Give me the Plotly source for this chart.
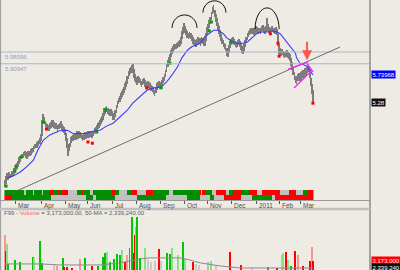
import plotly.graph_objects as go
import pandas as pd

# ---------------- data ----------------
start_date = "2010-02-15"

close = [
    3.89, 3.95, 4.02, 4.00, 4.04,
    4.02, 4.06, 4.07, 4.11, 4.12,
    4.18, 4.19, 4.23, 4.28, 4.31,
    4.35, 4.36, 4.38, 4.40, 4.38,
    4.36, 4.40, 4.41, 4.40, 4.43,
    4.46, 4.48, 4.52, 4.53, 4.55,
    4.58, 4.60, 4.62, 4.67, 4.84,
    4.99, 4.96, 4.91, 4.87, 4.86,
    4.84, 4.87, 4.89, 4.92, 4.91,
    4.89, 4.86, 4.87, 4.84, 4.86,
    4.87, 4.89, 4.86, 4.82, 4.80,
    4.77, 4.69, 4.58, 4.46, 4.52,
    4.60, 4.65, 4.67, 4.69, 4.70,
    4.69, 4.72, 4.70, 4.74, 4.72,
    4.70, 4.67, 4.69, 4.72, 4.70,
    4.72, 4.74, 4.72, 4.75, 4.74,
    4.72, 4.75, 4.79, 4.80, 4.84,
    4.87, 4.89, 4.92, 4.96, 4.99,
    5.04, 5.11, 5.14, 5.16, 5.13,
    5.11, 5.09, 5.11, 5.08, 5.04,
    5.02, 5.08, 5.16, 5.23, 5.30,
    5.33, 5.38, 5.42, 5.45, 5.48,
    5.54, 5.59, 5.65, 5.74, 5.79,
    5.82, 5.84, 5.86, 5.76, 5.69,
    5.65, 5.62, 5.67, 5.65, 5.62,
    5.59, 5.62, 5.64, 5.59, 5.55,
    5.57, 5.59, 5.57, 5.55, 5.52,
    5.50, 5.47, 5.43, 5.48, 5.54,
    5.57, 5.59, 5.55, 5.57, 5.60,
    5.65, 5.70, 5.77, 5.86, 5.93,
    5.99, 6.04, 6.10, 6.15, 6.18,
    6.22, 6.22, 6.23, 6.25, 6.27,
    6.28, 6.33, 6.42, 6.50, 6.55,
    6.52, 6.47, 6.42, 6.40, 6.42,
    6.40, 6.37, 6.33, 6.30, 6.28,
    6.27, 6.30, 6.33, 6.32, 6.30,
    6.33, 6.32, 6.28, 6.30, 6.39,
    6.49, 6.54, 6.61, 6.67, 6.74,
    6.84, 6.86, 6.78, 6.71, 6.64,
    6.57, 6.50, 6.44, 6.37, 6.32,
    6.27, 6.23, 6.20, 6.13, 6.10,
    6.18, 6.25, 6.30, 6.32, 6.33,
    6.30, 6.27, 6.25, 6.28, 6.30,
    6.27, 6.23, 6.18, 6.15, 6.20,
    6.27, 6.33, 6.39, 6.44, 6.47,
    6.49, 6.50, 6.49, 6.47, 6.49,
    6.52, 6.50, 6.49, 6.50, 6.49,
    6.52, 6.54, 6.50, 6.49, 6.52,
    6.61, 6.54, 6.50, 6.49, 6.52,
    6.52, 6.50, 6.49, 6.50, 6.47,
    6.33, 6.18, 6.13, 6.11, 6.13,
    6.10, 6.08, 6.10, 6.11, 6.08,
    6.06, 6.03, 5.96, 5.89, 5.81,
    5.72, 5.67, 5.65, 5.69, 5.70,
    5.69, 5.72, 5.74, 5.76, 5.77,
    5.79, 5.81, 5.84, 5.86, 5.77,
    5.62, 5.50, 5.38,
]

spread = [
    0.12, 0.14, 0.10, 0.10, 0.09,
    0.08, 0.10, 0.09, 0.10, 0.08,
    0.10, 0.09, 0.10, 0.12, 0.10,
    0.09, 0.08, 0.10, 0.09, 0.10,
    0.09, 0.10, 0.08, 0.09, 0.10,
    0.09, 0.10, 0.09, 0.08, 0.10,
    0.09, 0.08, 0.10, 0.12, 0.26,
    0.16, 0.12, 0.10, 0.09, 0.10,
    0.10, 0.11, 0.09, 0.10, 0.12,
    0.10, 0.09, 0.11, 0.10, 0.09,
    0.10, 0.12, 0.10, 0.09, 0.10,
    0.10, 0.14, 0.16, 0.20, 0.14,
    0.16, 0.12, 0.10, 0.11, 0.10,
    0.10, 0.12, 0.10, 0.11, 0.10,
    0.11, 0.10, 0.12, 0.10, 0.09,
    0.10, 0.11, 0.10, 0.09, 0.10,
    0.10, 0.09, 0.11, 0.10, 0.10,
    0.10, 0.09, 0.10, 0.11, 0.10,
    0.12, 0.14, 0.12, 0.10, 0.11,
    0.10, 0.11, 0.10, 0.09, 0.12,
    0.10, 0.12, 0.14, 0.12, 0.11,
    0.10, 0.11, 0.10, 0.09, 0.10,
    0.12, 0.11, 0.13, 0.14, 0.12,
    0.12, 0.14, 0.12, 0.16, 0.12,
    0.11, 0.10, 0.12, 0.10, 0.11,
    0.10, 0.11, 0.10, 0.12, 0.10,
    0.10, 0.09, 0.11, 0.10, 0.10,
    0.10, 0.12, 0.11, 0.10, 0.11,
    0.10, 0.09, 0.10, 0.11, 0.10,
    0.10, 0.12, 0.12, 0.13, 0.12,
    0.12, 0.11, 0.12, 0.10, 0.11,
    0.10, 0.09, 0.10, 0.11, 0.10,
    0.10, 0.12, 0.14, 0.12, 0.14,
    0.12, 0.11, 0.12, 0.10, 0.11,
    0.10, 0.11, 0.12, 0.10, 0.11,
    0.12, 0.10, 0.11, 0.10, 0.12,
    0.10, 0.11, 0.10, 0.12, 0.14,
    0.12, 0.12, 0.13, 0.12, 0.14,
    0.12, 0.14, 0.12, 0.13, 0.12,
    0.12, 0.13, 0.12, 0.12, 0.11,
    0.12, 0.11, 0.12, 0.14, 0.12,
    0.14, 0.12, 0.11, 0.10, 0.11,
    0.10, 0.11, 0.10, 0.12, 0.10,
    0.11, 0.12, 0.12, 0.10, 0.12,
    0.12, 0.11, 0.12, 0.10, 0.11,
    0.10, 0.09, 0.10, 0.11, 0.10,
    0.10, 0.11, 0.10, 0.09, 0.10,
    0.10, 0.11, 0.10, 0.11, 0.10,
    0.18, 0.12, 0.10, 0.11, 0.10,
    0.10, 0.09, 0.10, 0.11, 0.10,
    0.20, 0.16, 0.12, 0.10, 0.11,
    0.10, 0.11, 0.10, 0.11, 0.10,
    0.10, 0.12, 0.12, 0.14, 0.14,
    0.14, 0.12, 0.14, 0.12, 0.14,
    0.12, 0.14, 0.12, 0.13, 0.12,
    0.12, 0.13, 0.12, 0.14, 0.16,
    0.14, 0.16, 0.22,
]

# moving average (read at sample days)
ma_days = [2, 7, 14, 20, 26, 30, 35, 41, 50, 57, 62, 69, 75, 82, 87, 93, 99, 105, 112, 117,
           124, 130, 136, 139, 144, 148, 153, 158, 162, 167, 171, 176, 179, 183, 188, 191, 195, 200, 203, 209,
           213, 218, 222, 224, 228, 231, 235, 240, 245, 249, 252, 255, 259, 263, 266, 267, 270, 274, 277, 279, 282]
ma_values = [3.99, 4.02, 4.09, 4.18, 4.29, 4.46, 4.63, 4.72, 4.79, 4.80, 4.75, 4.74, 4.75, 4.79, 4.80, 4.87, 4.92, 5.02, 5.14, 5.26,
             5.38, 5.48, 5.52, 5.52, 5.55, 5.62, 5.74, 5.88, 6.03, 6.16, 6.22, 6.25, 6.28, 6.39, 6.45, 6.50, 6.50, 6.44, 6.37, 6.30,
             6.28, 6.28, 6.30, 6.33, 6.40, 6.45, 6.47, 6.47, 6.49, 6.47, 6.44, 6.37, 6.28, 6.20, 6.11, 6.03, 5.94, 5.91, 5.88, 5.82, 5.74]

# signal markers
up_days = [1, 9, 10, 15, 35, 84, 92, 143, 151, 187, 189, 207]
up_prices = [3.85, 4.11, 4.18, 4.35, 4.94, 4.77, 5.14, 5.52, 5.94, 6.49, 6.64, 6.30]
down_days = [38, 76, 80, 130, 243, 250, 251, 282]
down_prices = [4.82, 4.60, 4.58, 5.52, 6.44, 6.28, 6.06, 5.26]

# indicator colour band (s = grey, g = green, r = red), run lengths in days
band_top_runs = [("g", 18), ("s", 2), ("g", 6), ("s", 1), ("g", 7), ("s", 1), ("g", 6), ("r", 3), ("g", 5), ("r", 1),
                 ("g", 3), ("r", 5), ("s", 8), ("g", 5), ("r", 1), ("g", 6), ("s", 3), ("g", 17), ("r", 3), ("g", 4),
                 ("s", 7), ("g", 5), ("r", 4), ("s", 9), ("r", 6), ("g", 15), ("s", 3), ("g", 17), ("r", 1), ("g", 7),
                 ("r", 1), ("s", 1), ("r", 4), ("g", 5), ("s", 4), ("r", 9), ("s", 3), ("g", 3), ("r", 9), ("g", 6),
                 ("r", 7), ("s", 5), ("r", 16), ("s", 9), ("r", 6), ("s", 6), ("g", 4), ("r", 6)]
band_bottom_runs = [("r", 7), ("g", 36), ("s", 32), ("g", 6), ("s", 3), ("g", 17), ("s", 20), ("g", 27), ("s", 19),
                    ("g", 12), ("s", 9), ("g", 4), ("s", 9), ("r", 16), ("s", 10), ("g", 18), ("s", 3), ("r", 35)]

# volume (millions) - bars that rise into the visible part of the panel
vol_days = [0, 1, 2, 3, 9, 14, 26, 27, 32, 34, 45, 48, 53, 54, 57, 61, 69, 73, 80, 85,
            90, 92, 93, 96, 100, 103, 105, 107, 110, 112, 114, 116, 118, 119, 120, 121, 124, 128, 131, 134,
            137, 141, 143, 148, 151, 153, 158, 163, 165, 172, 175, 178, 186, 189, 193, 206, 216, 226, 241, 249,
            254, 255, 257, 259, 262, 266, 268, 273, 279, 280, 281, 282]
vol_values = [3.65, 3.00, 3.30, 2.50, 2.66, 2.58, 2.78, 2.74, 3.41, 2.54, 2.46, 2.42, 2.74, 2.38, 2.38, 2.32, 2.70, 2.74, 2.42, 2.42,
              2.78, 2.93, 2.97, 2.58, 2.70, 2.89, 2.85, 3.05, 2.58, 2.85, 3.13, 4.36, 2.93, 3.65, 3.97, 4.36, 2.74, 3.13, 2.66, 2.58,
              2.62, 3.09, 2.62, 2.93, 2.89, 3.13, 2.85, 3.37, 2.70, 2.58, 2.50, 2.46, 2.58, 2.62, 2.42, 2.97, 2.46, 2.34, 2.38, 2.34,
              2.85, 2.93, 2.97, 2.66, 2.40, 3.01, 2.85, 2.42, 2.62, 2.50, 3.173, 2.60]
vol_kinds = list("rRgGGGGgGGsrGRRRrGRGGGgGGGGgRrGGRRrGGgsssRsGGggGgRssggsRRsGRggRgGRrRRRrR")
vol_ma_days = [0, 33, 50, 87, 105, 114, 124, 133, 160, 169, 179, 197, 215, 243, 282]
vol_ma_values = [2.50, 2.50, 2.46, 2.46, 2.54, 2.62, 2.70, 2.74, 2.74, 2.66, 2.54, 2.42, 2.34, 2.34, 2.339]

# drawn studies
level_values = [6.13, 5.93]
level_labels = ["5.98596", "5.90947"]
trend_days = [0, 306.8]
trend_prices = [3.68, 6.215]
arc_days = [164.4, 191.8, 240.0]
arc_base = [6.54, 6.80, 6.52]
arc_halfwidth = [11.4, 10.5, 11.0]
arc_height = [0.22, 0.20, 0.36]
wedge_segments = [(259.2, 5.84, 277.5, 5.96), (264.7, 5.52, 281.1, 5.82), (276.6, 5.93, 282.1, 5.79)]
arrow_day, arrow_price = 276.6, 5.99

month_labels = ["Mar", "Apr", "May", "Jun", "Jul", "Aug", "Sep", "Oct", "Nov", "Dec", "2011", "Feb", "Mar"]
ma_label = "5.73968"
last_price = 5.28
last_price_label = "5.28"
vol_label = "3,173,000"
vol_ma_label = "2,339,240"
title_text = ("F99 - <span style='color:#ff5a5a'>Volume</span>"
              " = 3,173,000.00, 50-MA = 2,339,240.00")

# ---------------- build ----------------
W, H = 400, 270
BG = "#EEEBE5"
FONT = "Liberation Sans, Arial, sans-serif"


def py(p):
    return 1 - p / H


days = list(range(len(close)))
dates = pd.bdate_range(start_date, periods=len(close))
first_idx, prev = [], None
for i, dt in enumerate(dates):
    key = (dt.year, dt.month)
    if key != prev:
        first_idx.append(i)
        prev = key
month_pos = first_idx[1:1 + len(month_labels)]

code = {"s": 0, "g": 1, "r": 2}
top_codes = [code[c] for c, n in band_top_runs for _ in range(n)]
bot_codes = [code[c] for c, n in band_bottom_runs for _ in range(n)]
vol_color_map = {"G": "#00c800", "g": "#8edc8e", "R": "#ff0000", "r": "#ff9494", "s": "#c9c9c9"}

fig = go.Figure()

# price bars (high-low range)
fig.add_trace(go.Bar(x=days, y=spread, base=[c - s / 2 for c, s in zip(close, spread)],
                     width=0.7, marker=dict(color="#7c7c7c", line=dict(width=0)),
                     xaxis="x", yaxis="y", showlegend=False))
fig.add_trace(go.Scatter(x=ma_days, y=ma_values, mode="lines",
                         line=dict(color="#3b3bf5", width=1.1), xaxis="x", yaxis="y", showlegend=False))
fig.add_trace(go.Scatter(x=up_days, y=up_prices, mode="markers",
                         marker=dict(symbol="square", size=3, color="#00a000"), xaxis="x", yaxis="y", showlegend=False))
fig.add_trace(go.Scatter(x=down_days, y=down_prices, mode="markers",
                         marker=dict(symbol="square", size=3, color="#ff0000"), xaxis="x", yaxis="y", showlegend=False))

# colour band
fig.add_trace(go.Heatmap(x=days, y=[0.5, 1.5], z=[bot_codes, top_codes], zmin=0, zmax=2,
                         colorscale=[[0, "#c0c0c0"], [0.333, "#c0c0c0"], [0.333, "#008f00"], [0.667, "#008f00"],
                                     [0.667, "#ff0000"], [1, "#ff0000"]],
                         showscale=False, xaxis="x", yaxis="y2", hoverinfo="skip"))

# volume
fig.add_trace(go.Bar(x=vol_days, y=vol_values, width=0.9,
                     marker=dict(color=[vol_color_map[k] for k in vol_kinds], line=dict(width=0)),
                     xaxis="x", yaxis="y3", showlegend=False))
fig.add_trace(go.Scatter(x=vol_ma_days, y=vol_ma_values, mode="lines",
                         line=dict(color="#8a8a8a", width=1), xaxis="x", yaxis="y3", showlegend=False))

shapes = []
for v in level_values:
    shapes.append(dict(type="line", xref="paper", yref="y", x0=0, x1=370 / W, y0=v, y1=v,
                       line=dict(color="#a6b8cc", width=1)))
shapes.append(dict(type="line", xref="x", yref="y", x0=trend_days[0], y0=trend_prices[0],
                   x1=trend_days[1], y1=trend_prices[1], line=dict(color="#5f5f5f", width=0.9)))
for cx, cy, rx, h in zip(arc_days, arc_base, arc_halfwidth, arc_height):
    k = 0.5523
    path = (f"M {cx - rx},{cy} C {cx - rx},{cy + k * h} {cx - k * rx},{cy + h} {cx},{cy + h} "
            f"C {cx + k * rx},{cy + h} {cx + rx},{cy + k * h} {cx + rx},{cy}")
    shapes.append(dict(type="path", xref="x", yref="y", path=path, line=dict(color="#111111", width=1)))
for x0, y0, x1, y1 in wedge_segments:
    shapes.append(dict(type="line", xref="x", yref="y", x0=x0, y0=y0, x1=x1, y1=y1,
                       line=dict(color="#f030e8", width=1.4)))
# frame lines
shapes.append(dict(type="line", xref="paper", yref="paper", x0=370 / W, x1=370 / W, y0=0, y1=1,
                   line=dict(color="#8c8c8c", width=1.5)))
shapes.append(dict(type="line", xref="paper", yref="paper", x0=0.6 / W, x1=0.6 / W, y0=0, y1=1,
                   line=dict(color="#9a9a9a", width=1)))
shapes.append(dict(type="line", xref="paper", yref="paper", x0=0, x1=370 / W, y0=py(209), y1=py(209),
                   line=dict(color="#c0c0c0", width=2.5)))

ann = []
for v, t in zip(level_values, level_labels):
    ann.append(dict(xref="paper", yref="y", x=3 / W, y=v, yshift=-5, text=t, showarrow=False,
                    xanchor="left", yanchor="middle", font=dict(size=6, color="#8fa2b7", family=FONT)))
ann.append(dict(xref="paper", yref="y", x=371 / W, y=ma_values[-1], text=ma_label, showarrow=False,
                xanchor="left", yanchor="middle", bgcolor="#0000ff", borderpad=0.5,
                font=dict(size=6, color="#ffffff", family=FONT)))
ann.append(dict(xref="paper", yref="y", x=371 / W, y=last_price, text=last_price_label, showarrow=False,
                xanchor="left", yanchor="middle", bgcolor="#111111", borderpad=0.5,
                font=dict(size=6, color="#ffffff", family=FONT)))
ann.append(dict(xref="paper", yref="paper", x=371 / W, y=py(260), text=vol_label, showarrow=False,
                xanchor="left", yanchor="middle", bgcolor="#ff0000", borderpad=0.5,
                font=dict(size=6, color="#ffe4e4", family=FONT)))
ann.append(dict(xref="paper", yref="paper", x=371 / W, y=py(267), text=vol_ma_label, showarrow=False,
                xanchor="left", yanchor="middle", bgcolor="#111111", borderpad=0.5,
                font=dict(size=6, color="#ffffff", family=FONT)))
ann.append(dict(xref="paper", yref="paper", x=2 / W, y=py(212.5), text=title_text, showarrow=False,
                xanchor="left", yanchor="middle", font=dict(size=6, color="#5a5a5a", family=FONT)))
for pos, lab in zip(month_pos, month_labels):
    ann.append(dict(xref="x", yref="paper", x=pos, y=py(205.5), text=lab, showarrow=False,
                    xanchor="left", yanchor="middle", xshift=0.5,
                    font=dict(size=6.5, color="#505050", family=FONT)))
ann.append(dict(xref="x", yref="y", x=arrow_day, y=arrow_price, ax=0, ay=-20, text="", showarrow=True,
                arrowhead=2, arrowsize=1, arrowwidth=2, arrowcolor="#ff5555", standoff=0))

fig.update_layout(
    width=W, height=H, margin=dict(l=0, r=0, t=0, b=0),
    paper_bgcolor=BG, plot_bgcolor=BG, barmode="overlay", bargap=0,
    showlegend=False, hovermode=False,
    font=dict(family=FONT),
    xaxis=dict(domain=[0, 370 / W], range=[-4.58, 334.25], anchor="y2",
               showline=True, linecolor="#9c9c9c", linewidth=1,
               ticks="outside", tickvals=month_pos, ticklen=3, tickcolor="#555555", tickwidth=1,
               showticklabels=False, showgrid=False, zeroline=False, fixedrange=True),
    yaxis=dict(domain=[py(200), 1], range=[3.614, 7.014], visible=False, anchor="x"),
    yaxis2=dict(domain=[py(200), py(190)], range=[0, 2], visible=False, anchor="x"),
    yaxis3=dict(domain=[0, py(215)], range=[2.26, 4.44], visible=False, anchor="x"),
    shapes=shapes, annotations=ann,
)

fig.write_html("out.html")
